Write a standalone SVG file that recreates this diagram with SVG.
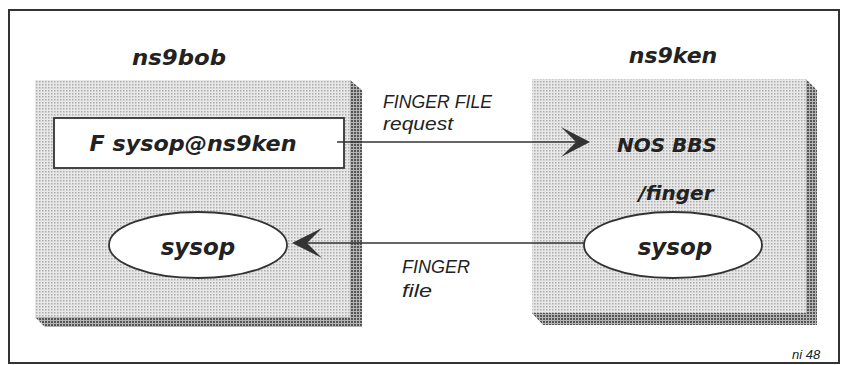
<svg xmlns="http://www.w3.org/2000/svg" width="843" height="365" viewBox="0 0 843 365">
<style>
.lbl{font-family:"DejaVu Sans","Liberation Sans",sans-serif;font-weight:bold;font-style:italic;fill:#222}
.sm{font-family:"Liberation Sans","DejaVu Sans",sans-serif;font-style:italic;fill:#222}
.ln{stroke:#333;stroke-width:1.6;fill:none}
.box{fill:url(#light)}
.shd{fill:url(#dark)}
.node{fill:#fff;stroke:#333;stroke-width:1.8}
</style>
<defs>
<pattern id="light" width="3" height="3" patternUnits="userSpaceOnUse">
<rect width="3" height="3" fill="#e8e8e8"/>
<rect x="0" y="0" width="1.5" height="1.5" fill="#acacac"/>
</pattern>
<pattern id="dark" width="3" height="3" patternUnits="userSpaceOnUse">
<rect width="3" height="3" fill="#b4b4b4"/>
<rect x="0" y="0" width="2" height="2" fill="#555"/>
</pattern>
</defs>
<rect x="0" y="0" width="843" height="365" fill="#fff"/>
<rect x="9" y="10" width="830" height="353" fill="none" stroke="#333" stroke-width="2"/>

<g id="ns9bob">
<polygon class="shd" points="350,80 362,90 362,327 45,327 35,317 350,317"/>
<rect class="box" x="35" y="80" width="315" height="237"/>
<text class="lbl" x="179" y="65" font-size="22" text-anchor="middle" textLength="94" lengthAdjust="spacingAndGlyphs">ns9bob</text>
</g>

<g id="ns9ken">
<polygon class="shd" points="806,79 817,90 817,325 543,325 532,313 806,313"/>
<rect class="box" x="532" y="79" width="274" height="234"/>
<text class="lbl" x="673" y="63" font-size="22" text-anchor="middle">ns9ken</text>
<text class="lbl" x="667" y="152" font-size="20" text-anchor="middle">NOS BBS</text>
<text class="lbl" x="676" y="200" font-size="20" text-anchor="middle">/finger</text>
</g>

<g id="cmd">
<rect class="node" x="54" y="118" width="290" height="50"/>
<text class="lbl" x="193" y="151" font-size="22" text-anchor="middle" textLength="207" lengthAdjust="spacingAndGlyphs">F  sysop@ns9ken</text>
</g>

<g id="sysop-bob">
<ellipse class="node" cx="198" cy="245" rx="89" ry="33"/>
<text class="lbl" x="198" y="255" font-size="23" text-anchor="middle">sysop</text>
</g>

<g id="sysop-ken">
<ellipse class="node" cx="673" cy="245" rx="89" ry="33"/>
<text class="lbl" x="675" y="255" font-size="23" text-anchor="middle">sysop</text>
</g>

<g id="connectors">
<line class="ln" x1="337" y1="142" x2="585" y2="142"/>
<polygon points="590,142 561,127 576,142 561,157" fill="#333"/>
<line class="ln" x1="584" y1="243" x2="297" y2="243"/>
<polygon points="292,243 322,228 307,243 322,258" fill="#333"/>
<text class="sm" x="383" y="108" font-size="18" textLength="109" lengthAdjust="spacingAndGlyphs">FINGER FILE</text>
<text class="sm" x="383" y="130" font-size="18" textLength="70" lengthAdjust="spacingAndGlyphs">request</text>
<text class="sm" x="402" y="273" font-size="18" textLength="68" lengthAdjust="spacingAndGlyphs">FINGER</text>
<text class="sm" x="402" y="297" font-size="18" textLength="30" lengthAdjust="spacingAndGlyphs">file</text>
</g>

<text class="sm" x="792" y="359" font-size="13">ni 48</text>
</svg>
